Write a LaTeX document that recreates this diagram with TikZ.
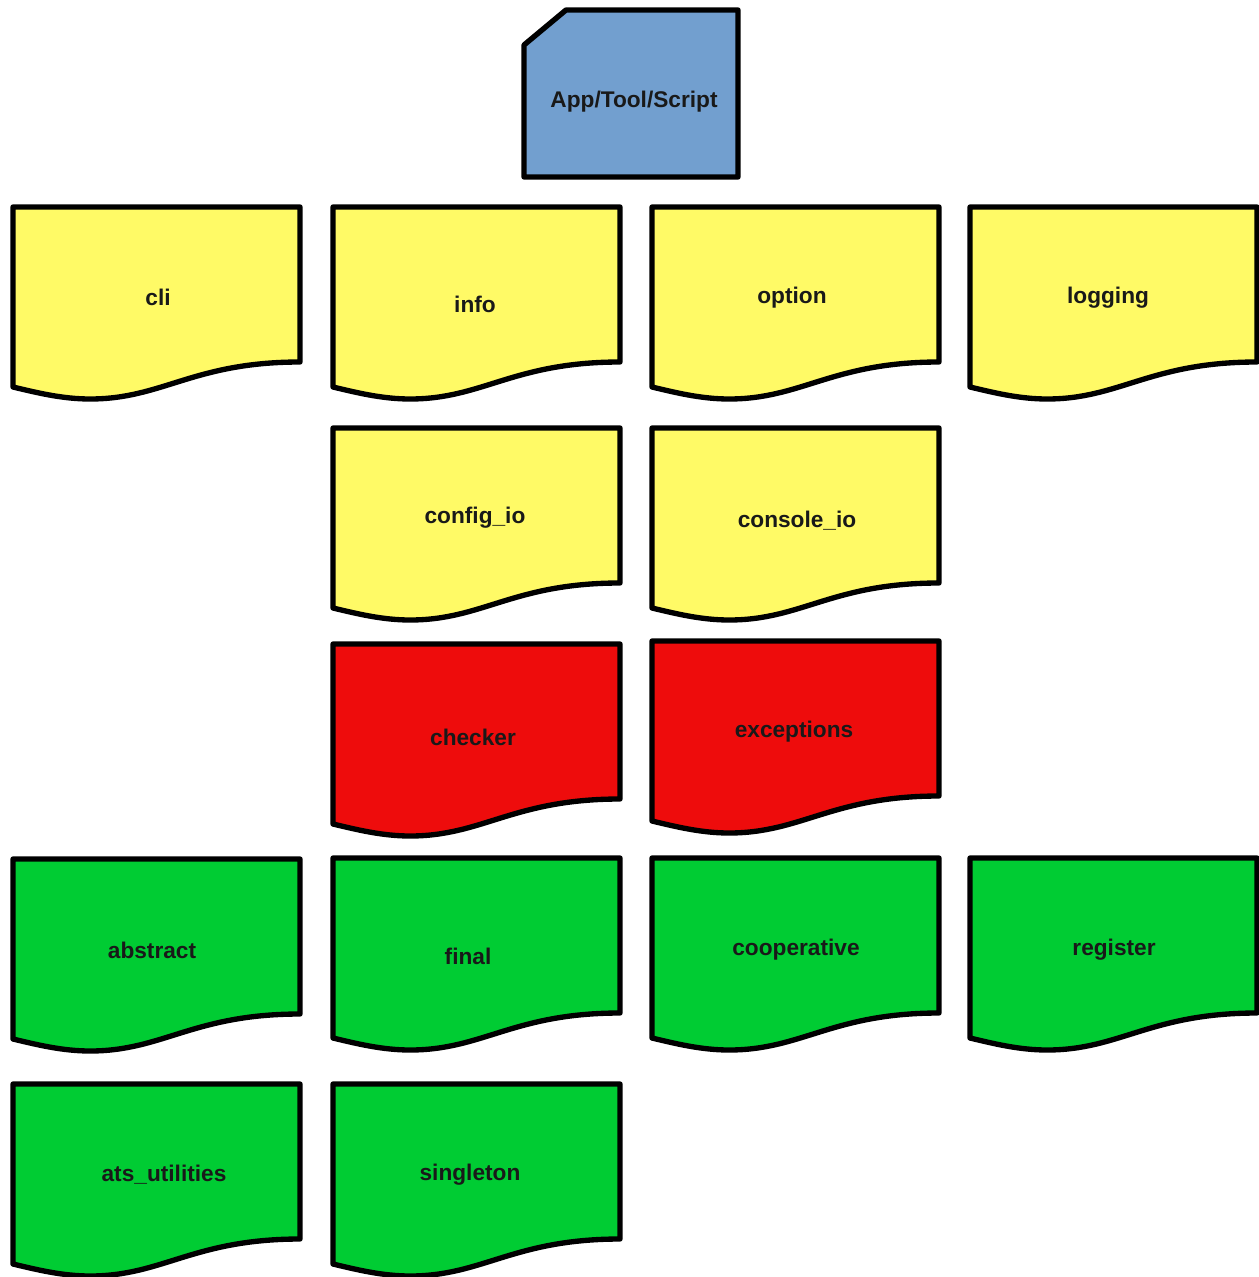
\documentclass[tikz,border=0pt]{standalone}
\usepackage{fontspec}
\setmainfont{Liberation Sans}
\usepackage{tikz}

\definecolor{docyellow}{RGB}{255,250,102}
\definecolor{docred}{RGB}{238,12,12}
\definecolor{docgreen}{RGB}{0,204,51}
\definecolor{appblue}{RGB}{114,159,207}

\tikzset{
  docline/.style={draw=black, line width=4pt, line join=round},
  doclabel/.style={font=\fontsize{17}{20}\selectfont\bfseries, text=black!90, inner sep=0pt}
}

% document shape: #1 left x, #2 top y, #3 fill colour
\newcommand{\docshape}[3]{%
  \filldraw[docline, fill=#3] ({#1},{#2}) -- ({#1+287},{#2})
    -- ({#1+287},{#2+155})
    .. controls ({#1+180},{#2+155}) and ({#1+150},{#2+192}) .. ({#1+77},{#2+192})
    .. controls ({#1+50},{#2+192}) and ({#1+25},{#2+186}) .. ({#1},{#2+180})
    -- cycle;}

\begin{document}
\begin{tikzpicture}[x=0.75pt, y=-0.75pt]
  \useasboundingbox (0,0) rectangle (1259,1277);

  % application
  \filldraw[docline, fill=appblue] (566,10) -- (738,10) -- (738,177) -- (524,177) -- (524,45) -- cycle;
  \node[doclabel] (app) at (634,102) {App/Tool/Script};

  % first row
  \docshape{13}{207}{docyellow}
  \docshape{333}{207}{docyellow}
  \docshape{652}{207}{docyellow}
  \docshape{970}{207}{docyellow}
  \node[doclabel] (cli) at (158,297) {cli};
  \node[doclabel] (info) at (475,304) {info};
  \node[doclabel] (option) at (792,298) {option};
  \node[doclabel] (logging) at (1108,298) {logging};

  % second row
  \docshape{333}{428}{docyellow}
  \docshape{652}{428}{docyellow}
  \node[doclabel] (configio) at (475,518) {config\_io};
  \node[doclabel] (consoleio) at (797,521) {console\_io};

  % third row
  \docshape{333}{644}{docred}
  \docshape{652}{641}{docred}
  \node[doclabel] (checker) at (473,737) {checker};
  \node[doclabel] (exceptions) at (794,732) {exceptions};

  % fourth row
  \docshape{13}{859}{docgreen}
  \docshape{333}{858}{docgreen}
  \docshape{652}{858}{docgreen}
  \docshape{970}{858}{docgreen}
  \node[doclabel] (abstract) at (152,950) {abstract};
  \node[doclabel] (final) at (468,956) {final};
  \node[doclabel] (cooperative) at (796,950) {cooperative};
  \node[doclabel] (register) at (1114,950) {register};

  % fifth row
  \docshape{13}{1084}{docgreen}
  \docshape{333}{1084}{docgreen}
  \node[doclabel] (atsutil) at (164,1175) {ats\_utilities};
  \node[doclabel] (singleton) at (470,1175) {singleton};
\end{tikzpicture}
\end{document}
